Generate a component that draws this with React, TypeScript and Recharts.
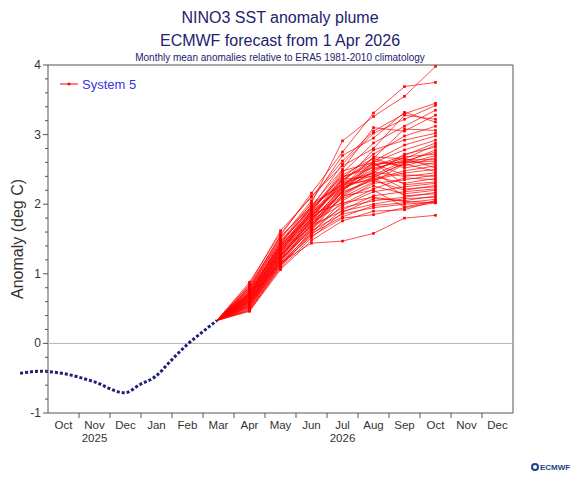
import React from "react";
import { LineChart, Line, XAxis, YAxis, ReferenceArea, ReferenceLine } from "recharts";

const W = 576;
const H = 480;
const PAD_LEFT = 32; // distance from plot edge to the framed axis on the left
const FONT = '"Liberation Sans", Arial, sans-serif';

// Oct 2025 .. Dec 2026, time = months since 1 Oct 2025
const MONTHS = ["Oct", "Nov", "Dec", "Jan", "Feb", "Mar", "Apr", "May", "Jun", "Jul", "Aug", "Sep", "Oct", "Nov", "Dec"];
const YEARS = [
  { month: 1, label: "2025" },
  { month: 9, label: "2026" },
];

// observed anomaly (dotted)
const OBS_T = [-0.9, -0.26, 0.45, 1.48, 2.48, 2.97, 3.48, 3.94, 4.48, 5.0, 5.45];
const OBS_V = [-0.43, -0.4, -0.43, -0.55, -0.71, -0.59, -0.47, -0.26, -0.02, 0.17, 0.33];

// forecast month centres Apr..Oct 2026
const FC_T = [6.5, 7.5, 8.5, 9.5, 10.5, 11.5, 12.5];

// System 5 members: Apr, May, Jun, Jul, Aug, Sep, Oct
const MEMBERS = [
  [0.72, 1.45, 2.02, 2.91, 3.26, 3.55, 3.98],
  [0.8, 1.55, 2.16, 2.75, 3.31, 3.69, 3.75],
  [0.85, 1.62, 2.1, 2.62, 3.05, 3.3, 3.45],
  [0.68, 1.38, 1.95, 2.58, 3.02, 3.22, 3.42],
  [0.78, 1.5, 2.05, 2.7, 2.95, 3.32, 3.18],
  [0.62, 1.3, 1.88, 2.45, 2.88, 3.12, 3.35],
  [0.7, 1.42, 1.98, 2.5, 3.1, 3.05, 3.28],
  [0.88, 1.58, 2.12, 2.55, 2.8, 3.28, 3.22],
  [0.58, 1.25, 1.8, 2.38, 2.72, 2.98, 3.12],
  [0.66, 1.35, 1.92, 2.42, 2.66, 3.08, 3.06],
  [0.74, 1.4, 1.85, 2.3, 2.78, 2.92, 3.02],
  [0.55, 1.22, 1.78, 2.35, 2.62, 2.85, 2.98],
  [0.64, 1.33, 1.9, 2.48, 2.6, 2.78, 2.92],
  [0.82, 1.52, 2.0, 2.28, 2.55, 2.7, 2.88],
  [0.6, 1.28, 1.75, 2.25, 2.68, 2.65, 2.85],
  [0.7, 1.36, 1.82, 2.32, 2.45, 2.72, 2.82],
  [0.52, 1.18, 1.72, 2.22, 2.58, 2.6, 2.78],
  [0.76, 1.44, 1.96, 2.4, 2.52, 2.62, 2.75],
  [0.63, 1.26, 1.7, 2.2, 2.48, 2.68, 2.72],
  [0.68, 1.32, 1.86, 2.36, 2.4, 2.58, 2.7],
  [0.57, 1.2, 1.68, 2.18, 2.62, 2.55, 2.67],
  [0.72, 1.4, 1.9, 2.26, 2.5, 2.64, 2.64],
  [0.49, 1.12, 1.62, 2.12, 2.38, 2.6, 2.62],
  [0.8, 1.48, 1.94, 2.34, 2.66, 2.52, 2.6],
  [0.61, 1.24, 1.76, 2.24, 2.42, 2.62, 2.57],
  [0.66, 1.3, 1.8, 2.16, 2.36, 2.48, 2.55],
  [0.54, 1.16, 1.66, 2.2, 2.55, 2.66, 2.52],
  [0.74, 1.38, 1.84, 2.28, 2.35, 2.45, 2.5],
  [0.59, 1.22, 1.7, 2.1, 2.32, 2.58, 2.47],
  [0.69, 1.34, 1.78, 2.22, 2.46, 2.4, 2.45],
  [0.47, 1.1, 1.58, 2.05, 2.3, 2.35, 2.42],
  [0.78, 1.46, 1.92, 2.38, 2.58, 2.42, 2.4],
  [0.56, 1.19, 1.64, 2.14, 2.4, 2.3, 2.37],
  [0.65, 1.28, 1.74, 2.0, 2.22, 2.38, 2.35],
  [0.71, 1.36, 1.82, 2.26, 2.6, 2.28, 2.32],
  [0.53, 1.14, 1.6, 1.98, 2.18, 2.25, 2.3],
  [0.62, 1.26, 1.72, 2.18, 2.34, 2.2, 2.27],
  [0.84, 1.54, 1.96, 2.3, 2.44, 2.22, 2.25],
  [0.5, 1.12, 1.56, 1.92, 2.12, 2.18, 2.22],
  [0.67, 1.3, 1.76, 2.08, 2.26, 2.15, 2.2],
  [0.58, 1.2, 1.66, 1.95, 2.05, 2.1, 2.17],
  [0.73, 1.42, 1.88, 2.24, 2.38, 2.12, 2.15],
  [0.48, 1.08, 1.52, 1.88, 2.08, 2.05, 2.12],
  [0.64, 1.27, 1.7, 1.9, 2.0, 2.08, 2.1],
  [0.55, 1.16, 1.58, 1.82, 1.98, 2.02, 2.07],
  [0.7, 1.33, 1.8, 2.12, 2.2, 1.96, 2.05],
  [0.46, 1.06, 1.48, 1.76, 1.9, 1.92, 2.05],
  [0.6, 1.22, 1.62, 1.86, 1.95, 2.0, 2.03],
  [0.77, 1.4, 1.86, 2.02, 2.1, 2.04, 2.02],
  [0.52, 1.14, 1.54, 1.8, 1.85, 1.95, 2.02],
  [0.62, 1.16, 1.44, 1.47, 1.58, 1.8, 1.84],
];

const Y_TICKS = Array.from({ length: 26 }, (_, i) => Math.round((-1 + i * 0.2) * 10) / 10);
const X_TICKS = [
  ...Array.from({ length: 14 }, (_, i) => i + 1),
  ...MONTHS.map((_, i) => i + 0.5),
];

const obsData = OBS_T.map((t, i) => ({ t, v: OBS_V[i] }));
const lastObs = obsData[obsData.length - 1];
const memberData = MEMBERS.map((row) => [
  lastObs,
  ...FC_T.map((t, i) => ({ t, v: row[i] })),
]);

function LeftTick({ x, y, payload }: any) {
  const v = payload.value;
  const major = Number.isInteger(v);
  const ax = x + PAD_LEFT;
  return (
    <g>
      <line x1={ax - (major ? 5 : 3)} x2={ax} y1={y} y2={y} stroke="#555" />
      {major && (
        <text x={ax - 7} y={y + 4} textAnchor="end" fontSize={12} fontFamily={FONT} fill="#333">
          {v}
        </text>
      )}
    </g>
  );
}

function RightTick({ x, y, payload }: any) {
  const v = payload.value;
  const major = Number.isInteger(v);
  return (
    <g>
      <line x1={x} x2={x + (major ? 5 : 3)} y1={y} y2={y} stroke="#555" />
      {major && (
        <text x={x + 7} y={y + 4} textAnchor="start" fontSize={12} fontFamily={FONT} fill="#333">
          {v}
        </text>
      )}
    </g>
  );
}

function MonthTick({ x, y, payload }: any) {
  const t = payload.value;
  if (Number.isInteger(t)) {
    return <line x1={x} x2={x} y1={y} y2={y + 5} stroke="#555" />;
  }
  const i = Math.floor(t);
  const yr = YEARS.find((d) => d.month === i);
  return (
    <g fontFamily={FONT} fontSize={11.5} fill="#333">
      <text x={x} y={y + 16} textAnchor="middle">
        {MONTHS[i]}
      </text>
      {yr && (
        <text x={x} y={y + 29} textAnchor="middle">
          {yr.label}
        </text>
      )}
    </g>
  );
}

function MemberDot(props: any) {
  const { cx, cy, index } = props;
  if (index === 0 || cx == null) return <g key={`e-${index}`} />;
  return <rect key={`d-${index}`} x={cx - 1.3} y={cy - 1.3} width={2.6} height={2.6} fill="#ff0000" />;
}

export default function App() {
  return (
    <div style={{ position: "absolute", left: 0, top: 0, width: W, height: H, background: "#fff" }}>
      <LineChart width={W} height={H} margin={{ top: 65, right: 0, bottom: 0, left: 0 }}>
        <XAxis
          type="number"
          dataKey="t"
          domain={[-1, 15]}
          padding={{ left: 1, right: 0 }}
          ticks={X_TICKS}
          interval={0}
          height={67}
          axisLine={false}
          tickLine={false}
          tickSize={0}
          tickMargin={0}
          tick={<MonthTick />}
        />
        <YAxis
          domain={[-1, 4]}
          ticks={Y_TICKS}
          interval={0}
          width={16}
          axisLine={false}
          tickLine={false}
          tickSize={0}
          tickMargin={0}
          tick={<LeftTick />}
        />
        <YAxis
          yAxisId="right"
          orientation="right"
          domain={[-1, 4]}
          ticks={Y_TICKS}
          interval={0}
          width={63}
          axisLine={false}
          tickLine={false}
          tickSize={0}
          tickMargin={0}
          tick={<RightTick />}
        />
        <ReferenceLine
          segment={[
            { x: 0, y: 0 },
            { x: 15, y: 0 },
          ]}
          stroke="#b5b5b5"
          strokeWidth={1}
        />
        {memberData.map((d, i) => (
          <Line
            key={i}
            data={d}
            dataKey="v"
            type="linear"
            stroke="#ff0000"
            strokeOpacity={0.7}
            strokeWidth={1}
            dot={MemberDot}
            activeDot={false}
            isAnimationActive={false}
          />
        ))}
        <Line
          data={obsData}
          dataKey="v"
          type="monotone"
          stroke="#1f1f78"
          strokeWidth={3}
          strokeDasharray="3 2"
          dot={false}
          activeDot={false}
          isAnimationActive={false}
        />
        <ReferenceArea x1={0} x2={15} y1={-1} y2={4} fill="none" stroke="#555" strokeWidth={1} />
      </LineChart>
      <svg
        width={W}
        height={H}
        style={{ position: "absolute", left: 0, top: 0, pointerEvents: "none" }}
        fontFamily={FONT}
      >
        <text x={280} y={23} textAnchor="middle" fontSize={16} fill="#22226e">
          NINO3 SST anomaly plume
        </text>
        <text x={280} y={46} textAnchor="middle" fontSize={16} fill="#22226e">
          ECMWF forecast from 1 Apr 2026
        </text>
        <text x={280} y={61} textAnchor="middle" fontSize={10} fill="#22226e">
          Monthly mean anomalies relative to ERA5 1981-2010 climatology
        </text>
        <text
          x={23}
          y={239}
          transform="rotate(-90 23 239)"
          textAnchor="middle"
          fontSize={16}
          fill="#333"
        >
          Anomaly (deg C)
        </text>
        <line x1={60} x2={78} y1={84} y2={84} stroke="#ff0000" strokeWidth={1} />
        <rect x={67.7} y={82.7} width={2.6} height={2.6} fill="#ff0000" />
        <text x={82} y={88.5} fontSize={13} fill="#3434e6">
          System 5
        </text>
        <circle cx={535} cy={467} r={3} fill="none" stroke="#1f3f8f" strokeWidth={2} />
        <text x={540} y={470} fontSize={8} fontWeight="bold" fill="#1f3f8f">
          ECMWF
        </text>
      </svg>
    </div>
  );
}
